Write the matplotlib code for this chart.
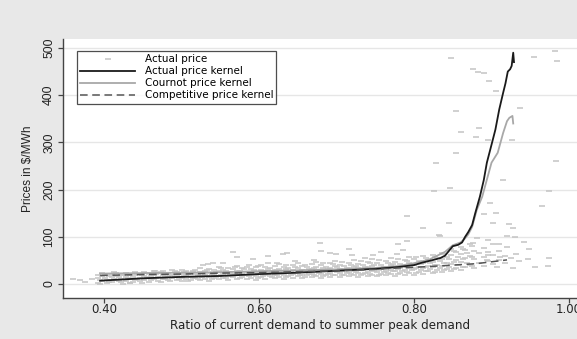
import matplotlib.pyplot as plt

# horizontal texts in the reference look wide, vertical ones narrow
wide_font = ['DejaVu Sans']
narrow_font = ['Liberation Sans', 'DejaVu Sans']

# actual prices: dense band (x, y) read column by column
band_x = [
    0.392, 0.392, 0.392, 0.398, 0.398, 0.398, 0.404, 0.404, 0.404, 0.410, 0.410, 0.410,
    0.416, 0.416, 0.416, 0.422, 0.422, 0.422, 0.428, 0.428, 0.428, 0.434, 0.434, 0.434,
    0.440, 0.440, 0.440, 0.446, 0.446, 0.446, 0.452, 0.452, 0.452, 0.458, 0.458, 0.458,
    0.464, 0.464, 0.464, 0.470, 0.470, 0.470, 0.476, 0.476, 0.476, 0.482, 0.482, 0.482,
    0.488, 0.488, 0.488, 0.494, 0.494, 0.494, 0.500, 0.500, 0.500, 0.500, 0.506, 0.506,
    0.506, 0.512, 0.512, 0.512, 0.518, 0.518, 0.518, 0.524, 0.524, 0.524, 0.524, 0.530,
    0.530, 0.530, 0.536, 0.536, 0.536, 0.536, 0.542, 0.542, 0.542, 0.548, 0.548, 0.548,
    0.548, 0.554, 0.554, 0.554, 0.560, 0.560, 0.560, 0.560, 0.566, 0.566, 0.566, 0.572,
    0.572, 0.572, 0.572, 0.578, 0.578, 0.578, 0.584, 0.584, 0.584, 0.584, 0.590, 0.590,
    0.590, 0.596, 0.596, 0.596, 0.596, 0.602, 0.602, 0.602, 0.602, 0.608, 0.608, 0.608,
    0.608, 0.614, 0.614, 0.614, 0.620, 0.620, 0.620, 0.620, 0.626, 0.626, 0.626, 0.626,
    0.632, 0.632, 0.632, 0.632, 0.638, 0.638, 0.638, 0.644, 0.644, 0.644, 0.644, 0.650,
    0.650, 0.650, 0.650, 0.656, 0.656, 0.656, 0.656, 0.662, 0.662, 0.662, 0.668, 0.668,
    0.668, 0.668, 0.674, 0.674, 0.674, 0.674, 0.680, 0.680, 0.680, 0.680, 0.686, 0.686,
    0.686, 0.692, 0.692, 0.692, 0.692, 0.698, 0.698, 0.698, 0.698, 0.704, 0.704, 0.704,
    0.704, 0.710, 0.710, 0.710, 0.716, 0.716, 0.716, 0.716, 0.722, 0.722, 0.722, 0.722,
    0.728, 0.728, 0.728, 0.728, 0.734, 0.734, 0.734, 0.740, 0.740, 0.740, 0.740, 0.746,
    0.746, 0.746, 0.746, 0.752, 0.752, 0.752, 0.752, 0.758, 0.758, 0.758, 0.764, 0.764,
    0.764, 0.764, 0.770, 0.770, 0.770, 0.770, 0.776, 0.776, 0.776, 0.776, 0.782, 0.782,
    0.782, 0.788, 0.788, 0.788, 0.788, 0.794, 0.794, 0.794, 0.794, 0.800, 0.800, 0.800,
    0.800, 0.806, 0.806, 0.806, 0.812, 0.812, 0.812, 0.812, 0.818, 0.818, 0.818, 0.824,
    0.824, 0.824, 0.824, 0.830, 0.830, 0.830, 0.836, 0.836, 0.836, 0.836, 0.842, 0.842,
    0.842, 0.848, 0.848, 0.848, 0.848, 0.854, 0.854, 0.854, 0.860, 0.860, 0.860, 0.860,
    0.866, 0.866, 0.866, 0.872, 0.872, 0.872, 0.878, 0.878, 0.878, 0.884, 0.884, 0.890,
    0.890, 0.890, 0.896, 0.896, 0.902, 0.902, 0.910, 0.910, 0.918, 0.918, 0.925, 0.935,
]
band_y = [
    3, 12, 20, 6, 16, 23, 2, 9, 19, 5, 14, 22,
    8, 17, 24, 4, 11, 20, 7, 15, 23, 2, 10, 18,
    9, 19, 25, 6, 13, 22, 8, 16, 26, 5, 12, 21,
    10, 18, 28, 7, 14, 23, 11, 20, 27, 8, 15, 24,
    12, 19, 29, 9, 17, 25, 6, 13, 22, 30, 10, 18,
    27, 8, 15, 24, 12, 21, 29, 9, 16, 26, 33, 11,
    19, 28, 7, 14, 24, 31, 13, 20, 30, 10, 17, 27,
    35, 12, 22, 30, 9, 16, 25, 34, 14, 21, 31, 11,
    19, 28, 38, 15, 23, 33, 10, 18, 26, 36, 13, 22,
    31, 8, 17, 25, 35, 14, 21, 30, 40, 11, 19, 27,
    37, 16, 24, 33, 12, 20, 29, 39, 15, 23, 32, 42,
    10, 18, 27, 36, 17, 25, 34, 13, 21, 30, 41, 16,
    24, 33, 44, 12, 20, 29, 38, 18, 26, 35, 14, 22,
    31, 42, 17, 27, 36, 46, 13, 21, 30, 40, 19, 28,
    37, 15, 24, 33, 44, 18, 27, 38, 48, 14, 23, 31,
    41, 20, 29, 39, 16, 25, 34, 45, 19, 28, 37, 50,
    15, 24, 33, 43, 21, 30, 40, 17, 26, 36, 47, 20,
    29, 38, 52, 16, 25, 34, 44, 22, 31, 41, 18, 27,
    37, 49, 21, 30, 40, 55, 17, 28, 36, 46, 23, 33,
    43, 19, 30, 39, 51, 24, 34, 45, 58, 20, 31, 41,
    53, 26, 37, 48, 22, 33, 44, 60, 27, 39, 50, 23,
    35, 47, 62, 29, 41, 55, 25, 38, 52, 66, 31, 45,
    58, 27, 42, 61, 74, 33, 50, 68, 29, 46, 64, 79,
    36, 55, 72, 40, 60, 85, 34, 52, 70, 45, 66, 38,
    58, 76, 48, 68, 42, 62, 50, 70, 44, 60, 55, 48,
]

# more band points, as (x, y) pairs
band2_pts = [
    (0.395, 9), (0.395, 1), (0.401, 13), (0.401, 21), (0.407, 4), (0.407, 17),
    (0.413, 10), (0.413, 25), (0.419, 6), (0.419, 14), (0.425, 1), (0.425, 18),
    (0.431, 12), (0.431, 21), (0.437, 5), (0.437, 15), (0.443, 11), (0.443, 22),
    (0.449, 3), (0.449, 18), (0.455, 14), (0.455, 24), (0.461, 8), (0.461, 16),
    (0.467, 12), (0.467, 21), (0.473, 5), (0.473, 25), (0.479, 16), (0.479, 10),
    (0.485, 20), (0.485, 6), (0.491, 14), (0.491, 27), (0.497, 10), (0.497, 21),
    (0.503, 16), (0.503, 25), (0.509, 7), (0.509, 21), (0.515, 13), (0.515, 28),
    (0.521, 18), (0.521, 11), (0.527, 23), (0.527, 14), (0.533, 16), (0.533, 30),
    (0.539, 21), (0.539, 10), (0.545, 15), (0.545, 25), (0.551, 19), (0.551, 33),
    (0.557, 13), (0.557, 28), (0.563, 18), (0.563, 24), (0.569, 22), (0.569, 36),
    (0.575, 13), (0.575, 27), (0.581, 20), (0.581, 31), (0.587, 16), (0.587, 26),
    (0.587, 40), (0.593, 20), (0.593, 29), (0.599, 12), (0.599, 23), (0.599, 38),
    (0.605, 17), (0.605, 27), (0.611, 21), (0.611, 32), (0.611, 44), (0.617, 15),
    (0.617, 26), (0.623, 18), (0.623, 30), (0.623, 45), (0.629, 22), (0.629, 28),
    (0.635, 14), (0.635, 31), (0.635, 40), (0.641, 19), (0.641, 27), (0.647, 23),
    (0.647, 36), (0.647, 48), (0.653, 18), (0.653, 28), (0.659, 15), (0.659, 25),
    (0.659, 40), (0.665, 21), (0.665, 31), (0.671, 19), (0.671, 33), (0.671, 50),
    (0.677, 24), (0.677, 27), (0.683, 17), (0.683, 34), (0.683, 45), (0.689, 22),
    (0.689, 31), (0.695, 20), (0.695, 29), (0.695, 42), (0.701, 25), (0.701, 35),
    (0.707, 18), (0.707, 27), (0.707, 46), (0.713, 23), (0.713, 33), (0.719, 21),
    (0.719, 30), (0.719, 41), (0.725, 26), (0.725, 38), (0.731, 19), (0.731, 29),
    (0.731, 48), (0.737, 24), (0.737, 35), (0.743, 22), (0.743, 32), (0.743, 44),
    (0.749, 27), (0.749, 40), (0.755, 20), (0.755, 30), (0.755, 50), (0.761, 25),
    (0.761, 36), (0.767, 24), (0.767, 33), (0.767, 45), (0.773, 28), (0.773, 42),
    (0.779, 21), (0.779, 31), (0.779, 53), (0.785, 27), (0.785, 38), (0.791, 26),
    (0.791, 36), (0.791, 48), (0.797, 30), (0.797, 43), (0.803, 23), (0.803, 34),
    (0.803, 57), (0.809, 30), (0.809, 42), (0.815, 28), (0.815, 37), (0.815, 54),
    (0.821, 32), (0.821, 45), (0.827, 26), (0.827, 40), (0.827, 58), (0.833, 34),
    (0.833, 48), (0.839, 30), (0.839, 44), (0.839, 63), (0.845, 36), (0.845, 52),
    (0.851, 32), (0.851, 47), (0.851, 70), (0.857, 40), (0.857, 58), (0.863, 35),
    (0.863, 52), (0.863, 75), (0.869, 44), (0.869, 66), (0.875, 38), (0.875, 58),
    (0.875, 80),
]

# actual prices: scattered points away from the band
outlier_x = [
    0.360, 0.369, 0.375, 0.385, 0.434, 0.466, 0.528, 0.534, 0.541, 0.554, 0.566, 0.571,
    0.592, 0.612, 0.631, 0.636, 0.679, 0.680, 0.692, 0.699, 0.716, 0.720, 0.737, 0.747,
    0.757, 0.778, 0.779, 0.786, 0.791, 0.791, 0.812, 0.826, 0.828, 0.832, 0.834, 0.845,
    0.846, 0.848, 0.854, 0.854, 0.861, 0.876, 0.876, 0.880, 0.881, 0.883, 0.884, 0.890,
    0.890, 0.894, 0.895, 0.896, 0.896, 0.897, 0.898, 0.902, 0.902, 0.906, 0.906, 0.907,
    0.910, 0.911, 0.915, 0.920, 0.920, 0.923, 0.926, 0.928, 0.928, 0.930, 0.932, 0.937,
    0.942, 0.947, 0.948, 0.955, 0.956, 0.965, 0.973, 0.974, 0.974, 0.982, 0.983, 0.985,
]
outlier_y = [
    11, 9, 4, 11, 2, 28, 40, 42, 45, 45, 68, 57,
    53, 59, 64, 66, 87, 70, 66, 64, 74, 62, 55, 62,
    68, 64, 85, 72, 144, 91, 119, 197, 257, 104, 102, 130,
    204, 478, 367, 278, 321, 456, 87, 312, 98, 450, 331, 446,
    149, 51, 304, 93, 62, 431, 172, 130, 85, 408, 151, 36,
    85, 57, 221, 102, 79, 127, 306, 119, 34, 100, 64, 372,
    89, 53, 74, 480, 36, 166, 38, 197, 55, 493, 261, 473,
]

# kernel estimates
actual_kx = [0.395, 0.45, 0.50, 0.55, 0.60, 0.65, 0.70, 0.75, 0.78, 0.80, 0.81, 0.825,
             0.834, 0.84, 0.846, 0.85, 0.857, 0.862, 0.866, 0.870, 0.875, 0.879, 0.885,
             0.890, 0.894, 0.900, 0.905, 0.910, 0.915, 0.918, 0.921, 0.924, 0.926, 0.928, 0.929]
actual_ky = [7, 12, 15, 17, 21, 24, 28, 32, 36, 40, 45, 51,
             55, 60, 72, 80, 83, 88, 100, 110, 125, 150, 185,
             220, 257, 295, 327, 370, 405, 425, 450, 455, 462, 490, 470]
cournot_kx = [0.395, 0.45, 0.50, 0.55, 0.60, 0.65, 0.70, 0.75, 0.78, 0.80, 0.82, 0.84,
              0.85, 0.86, 0.865, 0.870, 0.875, 0.881, 0.888, 0.894, 0.900, 0.908, 0.915,
              0.920, 0.923, 0.927, 0.928]
cournot_ky = [22, 23, 24, 25, 27, 29, 31, 34, 38, 44, 52, 68,
              82, 88, 95, 105, 121, 157, 185, 221, 257, 278, 320,
              345, 352, 356, 340]
comp_kx = [0.395, 0.45, 0.50, 0.55, 0.60, 0.65, 0.70, 0.75, 0.78, 0.82, 0.85, 0.88, 0.90, 0.92]
comp_ky = [18, 20, 21, 23, 24, 26, 28, 31, 34, 37, 40, 43, 47, 51]

price_x = band_x + [p[0] for p in band2_pts] + outlier_x
price_y = band_y + [p[1] for p in band2_pts] + outlier_y

fig = plt.figure(figsize=(5.77, 3.39), dpi=100, facecolor='#e8e8e8')
ax = fig.add_axes([63 / 577, 41 / 339, 514 / 577, 259 / 339])
ax.set_facecolor('white')

ax.scatter(price_x, price_y, marker='_', s=14, linewidths=1.1,
           color='#c4c4c4', label='Actual price', zorder=2)
ax.plot(actual_kx, actual_ky, color='#1a1a1a', lw=1.3, label='Actual price kernel', zorder=4)
ax.plot(cournot_kx, cournot_ky, color='#a8a8a8', lw=1.3, label='Cournot price kernel', zorder=3)
ax.plot(comp_kx, comp_ky, color='#555555', lw=1.1, ls=(0, (5, 3)),
        label='Competitive price kernel', zorder=5)

ax.set_xlim(0.3471, 1.0103)
ax.set_ylim(-29.7, 519)
ax.set_xticks([0.40, 0.60, 0.80, 1.00])
ax.set_xticklabels(['0.40', '0.60', '0.80', '1.00'])
ax.set_yticks([0, 100, 200, 300, 400, 500])
ax.set_yticklabels(['0', '100', '200', '300', '400', '500'])

ax.tick_params(direction='out', length=3.6, width=0.9, color='#444444',
               labelcolor='#222222')
ax.tick_params(axis='x', pad=0, labelsize=8.5, labelfontfamily='DejaVu Sans')
ax.tick_params(axis='y', pad=2, labelsize=8.8, labelfontfamily='Liberation Sans',
               labelrotation=90)
for t in ax.get_yticklabels():
    t.set_verticalalignment('center')

ax.grid(axis='y', color='#e6e6e6', lw=1)
ax.set_axisbelow(True)
for s in ['top', 'right']:
    ax.spines[s].set_visible(False)
for s in ['left', 'bottom']:
    ax.spines[s].set_color('#444444')
    ax.spines[s].set_linewidth(1)

ax.set_xlabel('Ratio of current demand to summer peak demand', fontsize=8.6,
              family=wide_font, color='#222222', labelpad=2)
ax.set_ylabel('Prices in $/MWh', fontsize=8.6, family=narrow_font,
              color='#222222', labelpad=7)

leg = ax.legend(loc='upper left', bbox_to_anchor=(14 / 514, 1 - 12 / 259),
                prop={'family': wide_font, 'size': 7.5},
                frameon=True, fancybox=False, handlelength=5.3, handletextpad=0.9,
                labelspacing=0.2, borderpad=0.3, borderaxespad=0, scatterpoints=1)
leg.get_frame().set_edgecolor('#222222')
leg.get_frame().set_linewidth(0.9)

plt.savefig('out.png', dpi=100, facecolor=fig.get_facecolor())
